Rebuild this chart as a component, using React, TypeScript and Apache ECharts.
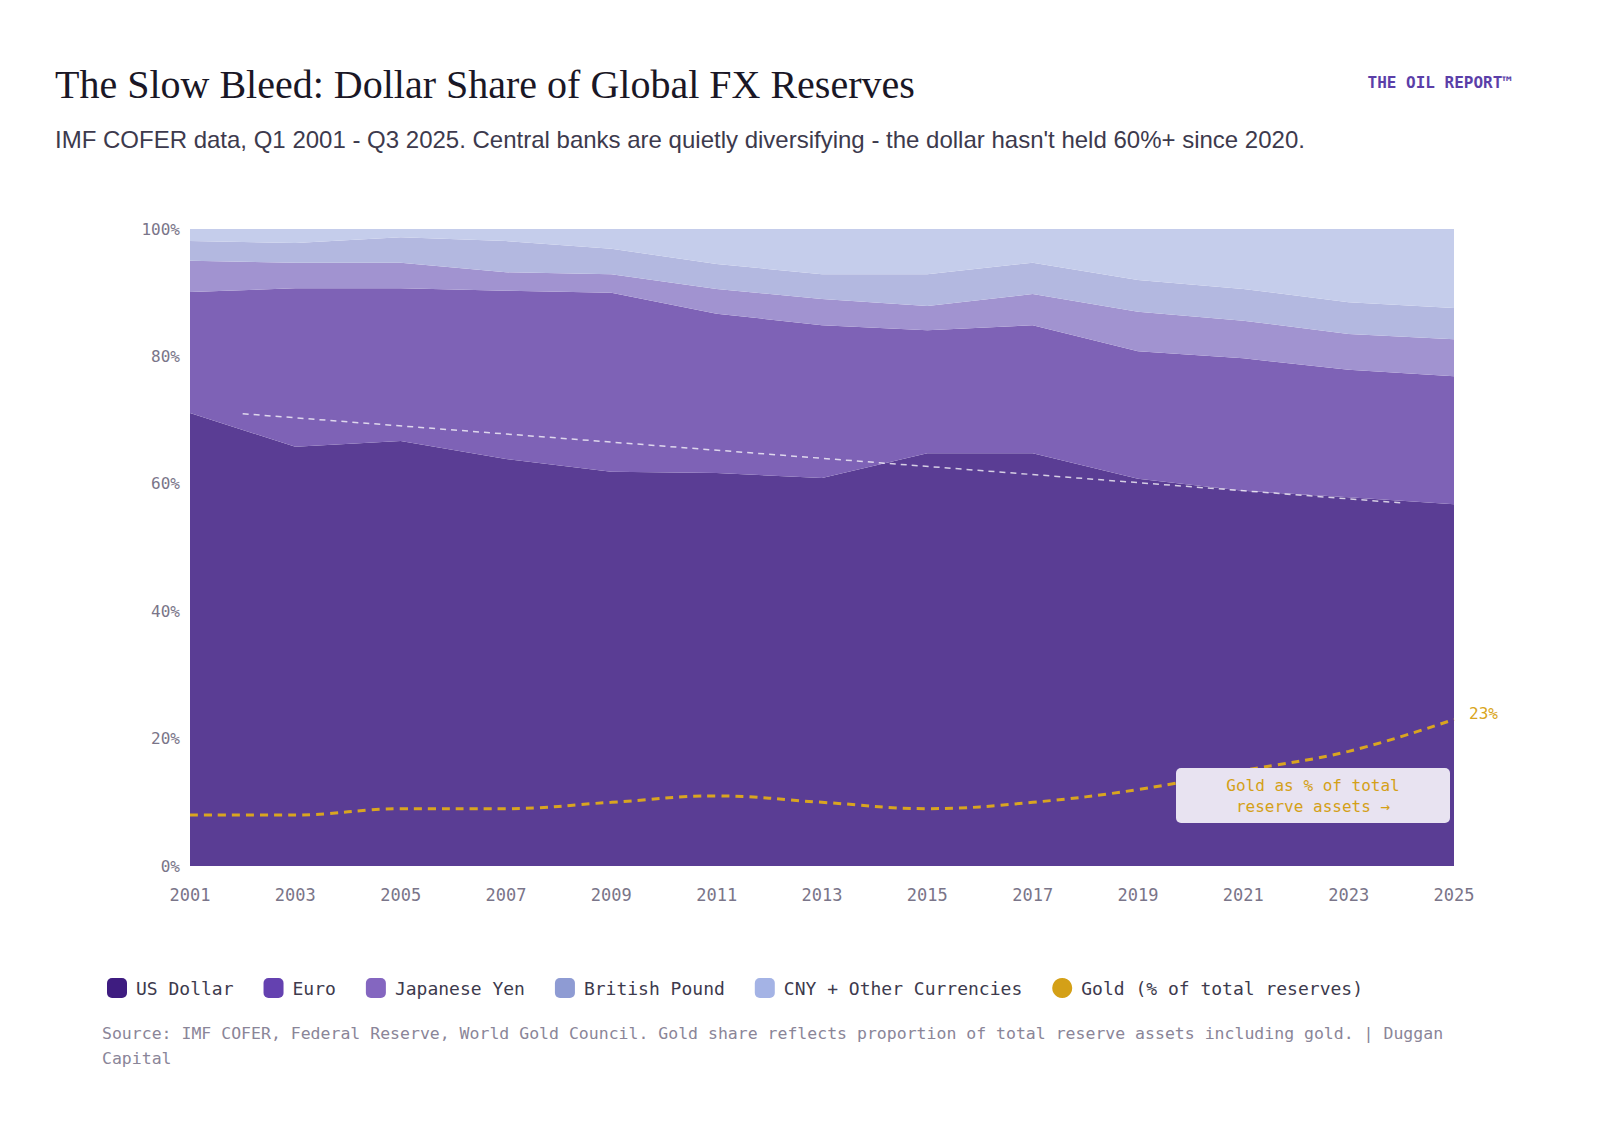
import * as echarts from "echarts";
import { useEffect, useRef } from "react";

const years = ["2001", "2003", "2005", "2007", "2009", "2011", "2013", "2015", "2017", "2019", "2021", "2023", "2025"];
const usd = [71.1, 65.8, 66.7, 63.9, 61.9, 61.7, 60.9, 64.8, 64.8, 60.8, 58.9, 57.9, 56.8];
const euro = [19.0, 24.9, 24.0, 26.4, 28.1, 25.0, 24.0, 19.3, 20.1, 20.0, 20.8, 20.0, 20.1];
const yen = [4.9, 4.0, 4.0, 2.9, 2.9, 3.9, 4.1, 3.8, 4.9, 6.2, 5.9, 5.6, 5.8];
const pound = [3.1, 3.1, 4.0, 4.9, 4.0, 3.9, 3.9, 5.0, 4.9, 5.0, 5.0, 5.0, 4.9];
const other = [1.9, 2.2, 1.3, 1.9, 3.1, 5.5, 7.1, 7.1, 5.3, 8.0, 9.4, 11.5, 12.4];
const gold = [8, 8, 9, 9, 10, 11, 10, 9, 10, 12, 15, 18, 23];
const trend = [[2002, 71], [2024, 57]];

const MONO = "'DejaVu Sans Mono', monospace";
const SERIF = "'Liberation Serif', serif";

function area(name: string, vals: number[], line: string, fill: string) {
  return {
    name,
    type: "line",
    stack: "fx",
    data: vals,
    symbol: "none",
    lineStyle: { width: 0 },
    itemStyle: { color: line },
    areaStyle: { color: fill, opacity: 1 },
  };
}

export default function App() {
  const ref = useRef<HTMLDivElement | null>(null);

  useEffect(() => {
    const el = ref.current;
    if (!el) return;
    const chart = echarts.init(el, undefined, { renderer: "svg" });
    chart.setOption({
      animation: false,
      backgroundColor: "#fff",
      grid: { left: 190, right: 146, top: 229, bottom: 278 },
      xAxis: [
        {
          type: "category",
          data: years,
          boundaryGap: false,
          axisLine: { show: false },
          axisTick: { show: false },
          splitLine: { show: false },
          axisLabel: { color: "#7a7589", fontFamily: MONO, fontSize: 17, margin: 20 },
        },
        { type: "value", min: 2001, max: 2025, show: false },
      ],
      yAxis: {
        type: "value",
        min: 0,
        max: 100,
        interval: 20,
        axisLine: { show: false },
        axisTick: { show: false },
        splitLine: { show: false },
        axisLabel: { formatter: "{value}%", color: "#7a7589", fontFamily: MONO, fontSize: 16, margin: 10 },
      },
      legend: {
        left: 102,
        top: 973,
        itemWidth: 20,
        itemHeight: 20,
        itemGap: 30,
        textStyle: { fontFamily: MONO, fontSize: 18, color: "#3d3a4d", padding: [0, 0, 0, 4] },
        data: [
          { name: "US Dollar", icon: "roundRect" },
          { name: "Euro", icon: "roundRect" },
          { name: "Japanese Yen", icon: "roundRect" },
          { name: "British Pound", icon: "roundRect" },
          { name: "CNY + Other Currencies", icon: "roundRect" },
          { name: "Gold (% of total reserves)", icon: "circle" },
        ],
      },
      series: [
        area("US Dollar", usd, "#3e1c80", "#5a3d94"),
        area("Euro", euro, "#6441b0", "#7e62b6"),
        area("Japanese Yen", yen, "#8466c0", "#a193d0"),
        area("British Pound", pound, "#8e9bd3", "#b3b8e0"),
        area("CNY + Other Currencies", other, "#a4b3e5", "#c5cdeb"),
        {
          name: "Gold (% of total reserves)",
          type: "line",
          data: gold,
          smooth: 0.4,
          symbol: "none",
          itemStyle: { color: "#d4a017" },
          lineStyle: { color: "#d9a520", width: 3, type: [8, 6] },
          z: 5,
        },
        {
          name: "trend",
          type: "line",
          xAxisIndex: 1,
          data: trend,
          symbol: "none",
          lineStyle: { color: "rgba(255,255,255,0.75)", width: 1.5, type: [6, 5] },
          z: 4,
        },
      ],
      graphic: [
        { type: "text", left: 55, top: 64, style: { text: "The Slow Bleed: Dollar Share of Global FX Reserves", font: `40px ${SERIF}`, fill: "#1a1726" } },
        { type: "text", left: 55, top: 127, style: { text: "IMF COFER data, Q1 2001 - Q3 2025. Central banks are quietly diversifying - the dollar hasn't held 60%+ since 2020.", font: "24px 'Liberation Sans', sans-serif", fill: "#3d3a4d" } },
        { type: "text", right: 88, top: 74, style: { text: "THE OIL REPORT™", font: `bold 16px ${MONO}`, fill: "#5b3ea8" } },
        { type: "text", x: 494, y: 354, style: { text: "Euro ~20%", font: `17px ${MONO}`, fill: "#ffffff", align: "center", verticalAlign: "middle" } },
        { type: "text", x: 1278, y: 276, style: { text: "CNY + Other", font: `17px ${MONO}`, fill: "#5b3ea8", align: "center", verticalAlign: "middle" } },
        { type: "text", x: 788, y: 672, style: { text: "US Dollar", font: `26px ${SERIF}`, fill: "#ffffff", align: "center", verticalAlign: "middle" } },
        { type: "text", x: 788, y: 707, style: { text: "71% → 57%", font: `18px ${MONO}`, fill: "#ffffff", align: "center", verticalAlign: "middle" } },
        { type: "text", x: 788, y: 735, style: { text: "-14 percentage points in 24 years", font: `17px ${MONO}`, fill: "#c9bde6", align: "center", verticalAlign: "middle" } },
        { type: "text", x: 1469, y: 713, style: { text: "23%", font: `16px ${MONO}`, fill: "#d9a520", verticalAlign: "middle" } },
        { type: "rect", shape: { x: 1176, y: 768, width: 274, height: 55, r: 5 }, style: { fill: "#e8e3f1" }, z: 10 },
        { type: "text", x: 1313, y: 796, z: 11, style: { text: "Gold as % of total\nreserve assets →", font: `16px ${MONO}`, lineHeight: 21, fill: "#d4a017", align: "center", verticalAlign: "middle" } },
        { type: "text", left: 102, top: 1021, style: { text: "Source: IMF COFER, Federal Reserve, World Gold Council. Gold share reflects proportion of total reserve assets including gold. | Duggan\nCapital", font: `16.5px ${MONO}`, lineHeight: 25, fill: "#8a8598" } },
      ],
    });
    return () => chart.dispose();
  }, []);

  return <div ref={ref} style={{ position: "fixed", left: 0, top: 0, width: 1600, height: 1144 }} />;
}
